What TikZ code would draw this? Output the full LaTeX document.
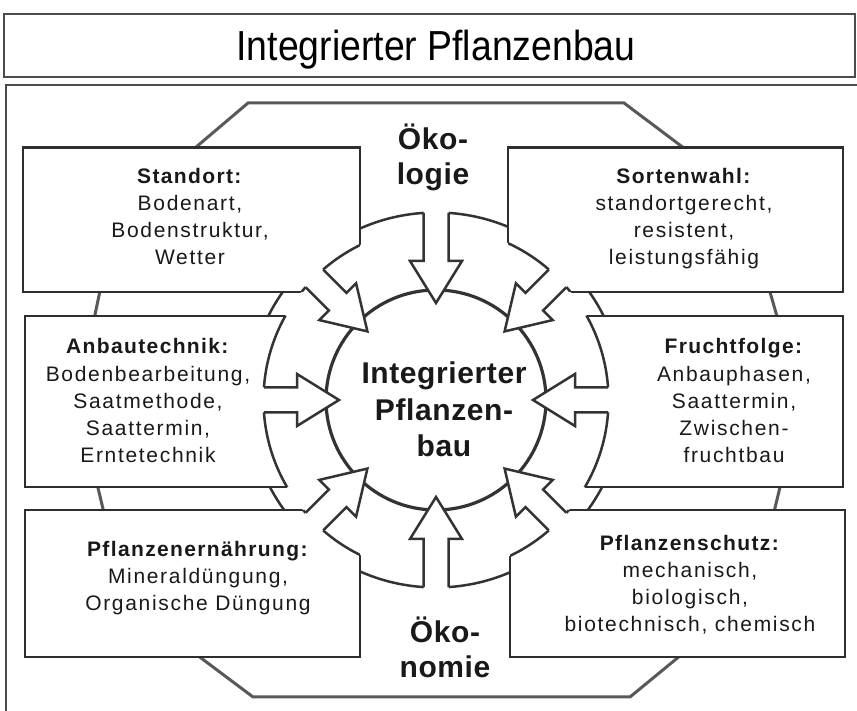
\documentclass[tikz,border=0pt]{standalone}
\usepackage{fontspec}
\setmainfont{Liberation Sans}[LetterSpace=8,BoldFeatures={LetterSpace=6.5}]
\newfontfamily\titlefont{Liberation Sans}[FakeStretch=0.89]
\newfontfamily\bigfont{Liberation Sans}[LetterSpace=2]
\usepackage{xcolor}
\usepackage{tikz}

\begin{document}
\begin{tikzpicture}[x=1pt,y=1pt,
  frameline/.style={draw=black!70,line width=1.1pt},
  ringline/.style={draw=black!80,line width=2.5pt,line join=miter},
  boxline/.style={draw=black!82,line width=2.5pt,fill=white},
  boxtext/.style={align=center,anchor=base,text=black!90,font=\fontsize{21}{27.3}\selectfont},
  bigtext/.style={align=center,anchor=base,text=black!90,font=\bigfont\bfseries\fontsize{30}{35}\selectfont}]
\useasboundingbox (0,0) rectangle (857,711);
\clip (0,0) rectangle (857,711);

\draw[frameline] (4,634) rectangle (855,697);
\draw[frameline] (6,-10) rectangle (859,626);
\node[anchor=base] (titel) at (436,650) {\titlefont\fontsize{42}{42}\selectfont Integrierter Pflanzenbau};

% Achteck hinter den Kaesten
\draw[ringline,draw=black!65,line width=3pt,fill=white] (248,608) -- (624,608) -- (741,520) -- (801,311)
  -- (754,116) -- (630,14) -- (253,14) -- (125,110) -- (77,311) -- (116,496) -- cycle;

\coordinate (c) at (436,311);
\draw[ringline] (c) circle (187.5);

\foreach \xa/\ya/\xb/\yb in {23/419/360/563.5, 508/419/843/563.5, 25/224/300/395,
                             572/224/843/395, 25/54/360/201, 510/54/845/201}
  \draw[boxline] (\xa,\ya) rectangle (\xb,\yb);

\fill[white] (c) circle (172.5);
\begin{scope}
  \clip (23,419) rectangle (360,563.5) (508,419) rectangle (843,563.5) (25,224) rectangle (300,395)
        (572,224) rectangle (843,395) (25,54) rectangle (360,201) (510,54) rectangle (845,201);
  \draw[ringline] (c) circle (172.5);
\end{scope}
\draw[ringline,line width=3.2pt] (c) circle (110);

% Pfeile zur Mitte
\foreach \ang/\len in {90/187.1, 270/187.1, 0/172, 45/172, 135/172, 180/172, 225/172, 315/172} {
  \begin{scope}[shift={(c)},rotate=\ang]
    \fill[white] (97,0) -- (139,26) -- (139,12.5) -- (\len+5,12.5) -- (\len+5,-12.5)
      -- (139,-12.5) -- (139,-26) -- cycle;
    \draw[ringline] (\len,12.5) -- (139,12.5) -- (139,26) -- (97,0) -- (139,-26)
      -- (139,-12.5) -- (\len,-12.5);
  \end{scope}
}

% Texte (Anker: Grundlinie der letzten Zeile)
\node[boxtext] (standort) at (190,446) {\textbf{Standort:}\\Bodenart,\\Bodenstruktur,\\Wetter};
\node[boxtext] (sorten) at (684,446) {\textbf{Sortenwahl:}\\standortgerecht,\\resistent,\\leistungsfähig};
\node[boxtext] (anbau) at (148,248) {\textbf{Anbautechnik:}\\Bodenbearbeitung,\\Saatmethode,\\Saattermin,\\Erntetechnik};
\node[boxtext] (frucht) at (734,248) {\textbf{Fruchtfolge:}\\Anbauphasen,\\Saattermin,\\Zwischen-\\fruchtbau};
\node[boxtext] (ernaehrung) at (198,100) {\textbf{Pflanzenernährung:}\\Mineraldüngung,\\Organische Düngung};
\node[boxtext] (schutz) at (690,79) {\textbf{Pflanzenschutz:}\\mechanisch,\\biologisch,\\biotechnisch, chemisch};
\node[bigtext] (oekologie) at (433,526) {Öko-\\logie};
\node[bigtext] (oekonomie) at (445,33) {Öko-\\nomie};
\node[bigtext,font=\bigfont\bfseries\fontsize{30}{36.5}\selectfont] (mitte) at (444,254) {Integrierter\\Pflanzen-\\bau};
\end{tikzpicture}
\end{document}
